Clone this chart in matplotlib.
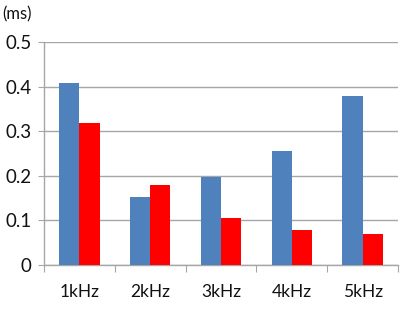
import matplotlib
matplotlib.use("Agg")
import matplotlib.pyplot as plt
import numpy as np

categories = ["1kHz", "2kHz", "3kHz", "4kHz", "5kHz"]
series_blue = [0.408, 0.153, 0.198, 0.256, 0.380]
series_red = [0.318, 0.180, 0.106, 0.078, 0.070]
yticks = [0, 0.1, 0.2, 0.3, 0.4, 0.5]
ytick_labels = ["0", "0.1", "0.2", "0.3", "0.4", "0.5"]

plt.rcParams['font.family'] = ['Lato', 'DejaVu Sans']

fig = plt.figure(figsize=(4.06, 3.2), dpi=100)
ax = fig.add_axes([44/406, 1-265/320, (398-44)/406, (265-42)/320])

x = np.arange(len(categories))
w = 0.285
ax.bar(x - w/2, series_blue, width=w, color="#4F81BD", zorder=3)
ax.bar(x + w/2, series_red, width=w, color="#FF0000", zorder=3)

ax.set_xlim(-0.5, len(categories) - 0.5)
ax.set_ylim(0, 0.5)
ax.set_yticks(yticks)
ax.set_yticklabels(ytick_labels, fontsize=13.5)
ax.yaxis.grid(True, color="#A6A6A6", linewidth=1, zorder=0)
ax.tick_params(axis='y', length=4, color="#A6A6A6", pad=5, labelcolor="#111111")

ax.set_xticks(np.arange(-0.5, len(categories), 1.0))
ax.set_xticklabels([])
ax.set_xticks(x, minor=True)
ax.set_xticklabels(categories, minor=True, fontsize=12.5)
ax.tick_params(axis='x', which='major', length=5, color="#A6A6A6")
ax.tick_params(axis='x', which='minor', length=0, pad=14, labelcolor="#111111")

for s in ["top", "right"]:
    ax.spines[s].set_visible(False)
for s in ["left", "bottom"]:
    ax.spines[s].set_color("#A6A6A6")
    ax.spines[s].set_linewidth(1)

fig.text(2/406, 1-14/320, "(ms)", fontsize=12, va="center", ha="left", color="#111111")

fig.savefig("out.png", dpi=100)
